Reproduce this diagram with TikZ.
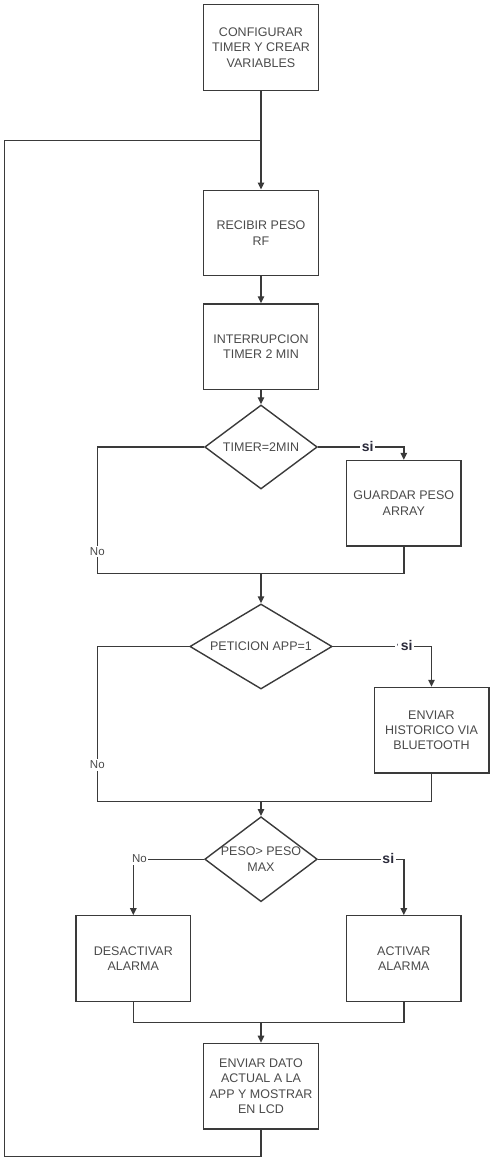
\documentclass[tikz,border=0pt]{standalone}
\usepackage{fontspec}
\setmainfont{Liberation Sans}
\usetikzlibrary{shapes.geometric,arrows.meta}
\definecolor{linec}{HTML}{3A3A3A}
\definecolor{textc}{HTML}{4A4A4A}
\definecolor{sic}{HTML}{2A2A3A}
\begin{document}
\begin{tikzpicture}[x=1pt,y=-1pt,
  every node/.style={font=\fontsize{12.5}{15.3}\selectfont, text=textc},
  procbox/.style={draw=linec, line width=1.4pt, rectangle, inner sep=0pt,
    minimum width=114.6pt, minimum height=85.5pt, align=center},
  decision/.style={draw=linec, line width=1.4pt, diamond, inner sep=0pt},
  link/.style={draw=linec, line width=1.4pt},
  flow/.style={link, -{Triangle[width=6.5pt,length=7pt]}},
  yes/.style={fill=white, inner sep=1.5pt, text=sic,
    font=\fontsize{14}{14}\selectfont\bfseries},
  no/.style={fill=white, inner sep=1.5pt, font=\fontsize{11.5}{12}\selectfont}
]
\useasboundingbox (0,0) rectangle (490,1161);

% process steps
\node[procbox] (cfg) at (261,47.5) {CONFIGURAR\\TIMER Y CREAR\\VARIABLES};
\node[procbox] (rx) at (261,233) {RECIBIR PESO\\RF};
\node[procbox] (irq) at (261,346.7) {INTERRUPCION\\TIMER 2 MIN};
\node[decision, minimum width=112.6pt, minimum height=84pt,
  label=center:{TIMER=2MIN}] (d1) at (261,447) {};
\node[procbox] (save) at (403.8,503.2) {GUARDAR PESO\\ARRAY};
\node[decision, minimum width=142.3pt, minimum height=85pt,
  label=center:{PETICION APP=1}] (d2) at (261,646.5) {};
\node[procbox] (bt) at (431.5,730.2) {ENVIAR\\HISTORICO VIA\\BLUETOOTH};
\node[decision, minimum width=112.6pt, minimum height=85pt,
  label={[align=center]center:{PESO> PESO\\MAX}}] (d3) at (261,859.2) {};
\node[procbox, minimum height=86pt] (off) at (133.3,958.7) {DESACTIVAR\\ALARMA};
\node[procbox, minimum height=86pt] (on) at (403.8,958.7) {ACTIVAR\\ALARMA};
\node[procbox, minimum height=85.7pt] (lcd) at (261,1086.2) {ENVIAR DATO\\ACTUAL A LA\\APP Y MOSTRAR\\EN LCD};

% junction points
\coordinate (loop) at (261,140.7);
\coordinate (m1) at (261,573.7);
\coordinate (m1l) at (97.3,573.7);
\coordinate (m2) at (261,801.7);
\coordinate (m2l) at (97.3,801.7);
\coordinate (m3) at (261,1022.7);
\coordinate (back) at (4.3,1156.7);

% main line
\draw[flow] (cfg) -- (rx);
\draw[flow] (rx) -- (irq);
\draw[flow] (irq) -- (d1);

% first decision
\draw[link] (d1.west) -| (m1l) -- (m1);
\draw[flow] (d1.east) -| (save.north);
\draw[link] (save.south) |- (m1);
\draw[flow] (m1) -- (d2.north);
\node[yes] (y1) at (367.7,446) {si};
\node[no] (n1) at (97.3,551.7) {No};

% second decision
\draw[link] (d2.west) -| (m2l) -- (m2);
\draw[flow] (d2.east) -| (bt.north);
\draw[link] (bt.south) |- (m2);
\draw[flow] (m2) -- (d3.north);
\node[yes] (y2) at (404.5,645.5) {{\fontsize{9}{9}\mdseries '}\,si};
\node[no] (n2) at (97.3,765) {No};

% third decision
\draw[flow] (d3.west) -| (off.north);
\draw[flow] (d3.east) -| (on.north);
\draw[link] (off.south) |- (m3);
\draw[link] (on.south) |- (m3);
\draw[flow] (m3) -- (lcd.north);
\node[yes] (y3) at (388.3,858.5) {si};
\node[no] (n3) at (139.5,859) {No};

% loop back to the start of the cycle
\draw[link] (lcd.south) |- (back) |- (loop);
\end{tikzpicture}
\end{document}
